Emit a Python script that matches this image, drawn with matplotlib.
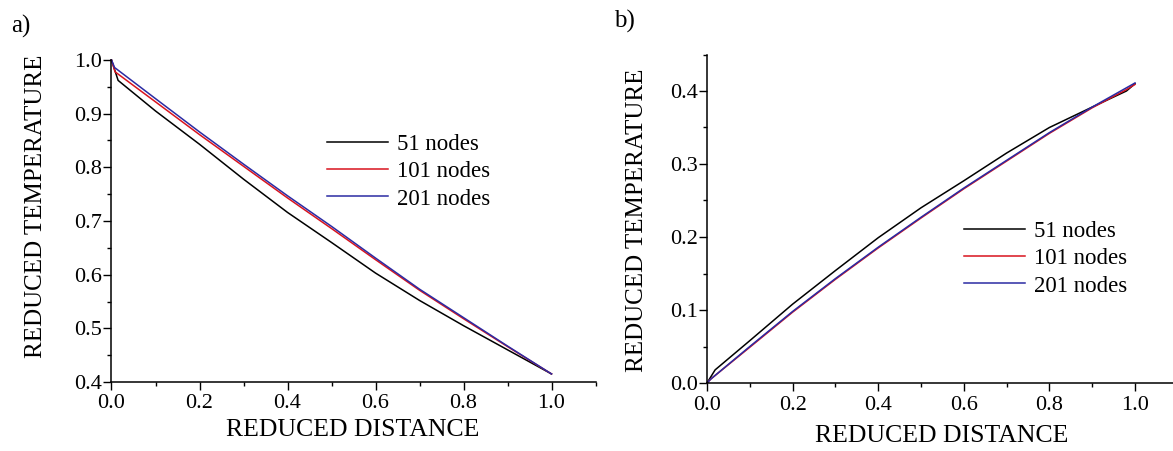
import numpy as np
import matplotlib
matplotlib.use("Agg")
import matplotlib.pyplot as plt
from matplotlib.ticker import MultipleLocator

plt.rcParams['font.family'] = ['Liberation Serif', 'DejaVu Serif']

labels = ['51 nodes', '101 nodes', '201 nodes']
colors = ['black', '#d9141e', '#2b2ba3']

# a) reduced temperature vs reduced distance (cooling)
xa_51 = [0, 0.015, 0.1, 0.2, 0.3, 0.4, 0.5, 0.6, 0.7, 0.8, 0.9, 1.0]
ya_51 = [1.0, 0.962, 0.905, 0.843, 0.778, 0.716, 0.660, 0.603, 0.552, 0.505, 0.460, 0.415]
xa_101 = [0, 0.008, 0.1, 0.2, 0.3, 0.4, 0.5, 0.6, 0.7, 0.8, 0.9, 1.0]
ya_101 = [1.0, 0.978, 0.922, 0.861, 0.802, 0.743, 0.686, 0.628, 0.571, 0.518, 0.466, 0.415]
xa_201 = [0, 0.007, 0.1, 0.2, 0.3, 0.4, 0.5, 0.6, 0.7, 0.8, 0.9, 1.0]
ya_201 = [1.0, 0.986, 0.928, 0.866, 0.806, 0.747, 0.690, 0.631, 0.573, 0.520, 0.467, 0.415]

# b) reduced temperature vs reduced distance (heating)
xb_51 = [0, 0.019, 0.1, 0.2, 0.3, 0.4, 0.5, 0.6, 0.7, 0.8, 0.9, 0.98, 1.0]
yb_51 = [0, 0.018, 0.058, 0.108, 0.154, 0.199, 0.240, 0.277, 0.315, 0.350, 0.378, 0.400, 0.410]
xb_101 = [0, 0.01, 0.1, 0.2, 0.3, 0.4, 0.5, 0.6, 0.7, 0.8, 0.9, 0.98, 1.0]
yb_101 = [0, 0.006, 0.049, 0.097, 0.142, 0.185, 0.226, 0.266, 0.304, 0.342, 0.377, 0.402, 0.409]
xb_201 = [0, 0.01, 0.1, 0.2, 0.3, 0.4, 0.5, 0.6, 0.7, 0.8, 0.9, 1.0]
yb_201 = [0, 0.006, 0.050, 0.098, 0.143, 0.186, 0.227, 0.267, 0.305, 0.343, 0.378, 0.411]

W, H = 1173, 451
fig = plt.figure(figsize=(W / 100, H / 100), dpi=100)

ax1 = fig.add_axes([111.5 / W, 1 - 382 / H, 484 / W, 322 / H])
ax2 = fig.add_axes([707 / W, 1 - 383 / H, 470.8 / W, 328.5 / H])

for x, y, c, l in zip([xa_51, xa_101, xa_201], [ya_51, ya_101, ya_201], colors, labels):
    ax1.plot(x, y, color=c, lw=1.1, label=l, clip_on=False)
for x, y, c, l in zip([xb_51, xb_101, xb_201], [yb_51, yb_101, yb_201], colors, labels):
    ax2.plot(x, y, color=c, lw=1.1, label=l, clip_on=False)

ax1.set_xlim(0, 1.1)
ax1.set_ylim(0.4, 1.0)
ax1.yaxis.set_major_locator(MultipleLocator(0.1))
ax1.yaxis.set_minor_locator(MultipleLocator(0.05))
ax2.set_xlim(0, 1.1)
ax2.set_ylim(0, 0.45)
ax2.yaxis.set_major_locator(MultipleLocator(0.1))
ax2.yaxis.set_minor_locator(MultipleLocator(0.05))

for ax in (ax1, ax2):
    ax.xaxis.set_major_locator(MultipleLocator(0.2))
    ax.xaxis.set_minor_locator(MultipleLocator(0.1))
    ax.xaxis.set_major_formatter(plt.FormatStrFormatter('%.1f'))
    ax.yaxis.set_major_formatter(plt.FormatStrFormatter('%.1f'))
    ax.spines['top'].set_visible(False)
    ax.spines['right'].set_visible(False)
    for s in ('left', 'bottom'):
        ax.spines[s].set_linewidth(1.1)
    ax.tick_params(which='major', direction='out', length=5.5, width=1.0, labelsize=16)
    ax.tick_params(which='minor', direction='out', length=2.7, width=1.0)
    ax.tick_params(axis='x', which='major', pad=3.5)
    ax.tick_params(axis='y', which='major', pad=1)
    ax.legend(frameon=False, fontsize=16.5, handlelength=2.65, handletextpad=0.4,
              labelspacing=0.27, borderpad=0, borderaxespad=0, loc='upper left')

ax1.get_legend().set_bbox_to_anchor((327 / W, 1 - 134 / H), transform=fig.transFigure)
ax2.get_legend().set_bbox_to_anchor((964 / W, 1 - 221 / H), transform=fig.transFigure)

fig.text(36.5 / W, 1 - 206 / H, 'REDUCED TEMPERATURE', rotation=90, ha='center', va='center', fontsize=18)
fig.text(353 / W, 1 - 430 / H, 'REDUCED DISTANCE', ha='center', va='center', fontsize=18.5)
fig.text(637 / W, 1 - 220 / H, 'REDUCED TEMPERATURE', rotation=90, ha='center', va='center', fontsize=18)
fig.text(942 / W, 1 - 436 / H, 'REDUCED DISTANCE', ha='center', va='center', fontsize=18.5)
fig.text(21 / W, 1 - 26 / H, 'a)', ha='center', va='center', fontsize=18)
fig.text(624 / W, 1 - 21 / H, 'b)', ha='center', va='center', fontsize=18)

fig.savefig('out.png', dpi=100)
